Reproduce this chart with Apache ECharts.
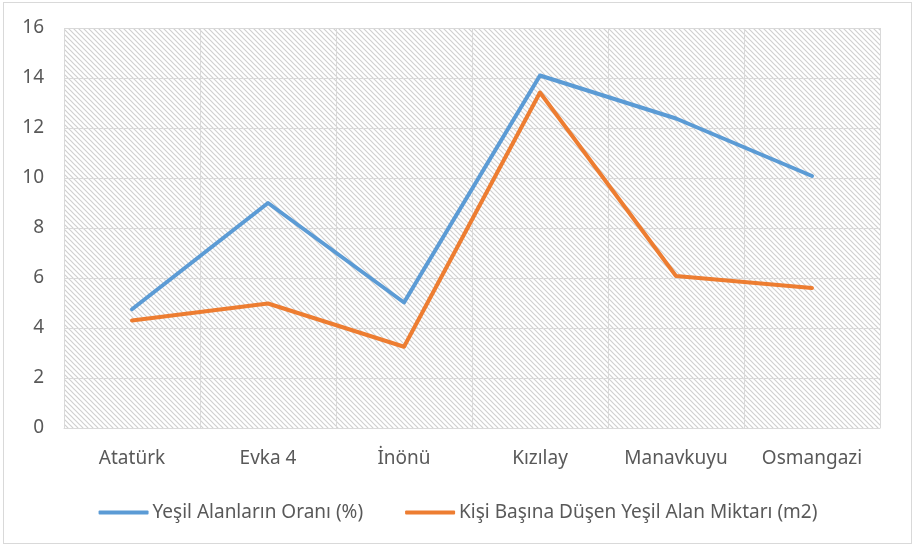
<!DOCTYPE html>
<html>
<head>
<meta charset="utf-8">
<script src="https://cdn.jsdelivr.net/npm/echarts@6/dist/echarts.min.js"></script>
<style>
  html, body { margin: 0; padding: 0; background: #fff; }
  #frame { position: absolute; left: 3px; top: 2px; width: 907px; height: 540px; border: 1px solid #d9d9d9; }
  #chart { position: absolute; left: 0; top: 0; width: 916px; height: 547px; }
</style>
</head>
<body>
<div id="frame"></div>
<div id="chart"></div>
<script>
let mahalleler = ['Atatürk', 'Evka 4', 'İnönü', 'Kızılay', 'Manavkuyu', 'Osmangazi'];
let seriesNames = ['Yeşil Alanların Oranı (%)', 'Kişi Başına Düşen Yeşil Alan Miktarı (m2)'];
let yesilOran = [4.75, 9.0, 5.02, 14.1, 12.38, 10.08];
let kisiBasina = [4.3, 4.98, 3.25, 13.42, 6.08, 5.6];

// taralı arka plan deseni
function hatchPattern() {
    let c = document.createElement('canvas');
    c.width = 5; c.height = 5;
    let ctx = c.getContext('2d');
    ctx.fillStyle = '#ffffff';
    ctx.fillRect(0, 0, 5, 5);
    ctx.strokeStyle = '#d0d0d0';
    ctx.lineWidth = 1.2;
    ctx.beginPath();
    ctx.moveTo(-1, -1); ctx.lineTo(6, 6);
    ctx.moveTo(-1, 4); ctx.lineTo(1, 6);
    ctx.moveTo(4, -1); ctx.lineTo(6, 1);
    ctx.stroke();
    return c;
}

let myChart = echarts.init(document.getElementById('chart'));
let font = '"Noto Sans", sans-serif';
let option = {
    animation: false,
    textStyle: { fontFamily: font },
    legend: {
        data: [
            { name: seriesNames[0], icon: 'roundRect' },
            { name: seriesNames[1], icon: 'roundRect' }
        ],
        bottom: 20,
        left: 'center',
        itemWidth: 50,
        itemHeight: 4,
        itemGap: 42,
        textStyle: { color: '#595959', fontSize: 19, fontFamily: font, padding: [0, 0, 0, -1] }
    },
    grid: {
        top: 28,
        left: 64,
        right: 36,
        bottom: 119,
        show: true,
        borderWidth: 0,
        backgroundColor: { image: hatchPattern(), repeat: 'repeat' }
    },
    xAxis: {
        type: 'category',
        data: mahalleler,
        boundaryGap: true,
        axisLine: { lineStyle: { color: '#d9d9d9', width: 1 } },
        axisTick: { show: false },
        axisLabel: { color: '#595959', fontSize: 19, margin: 21, fontFamily: font },
        splitLine: { show: true, lineStyle: { color: '#d9d9d9', width: 1 } }
    },
    yAxis: {
        type: 'value',
        min: 0,
        max: 16,
        interval: 2,
        axisLine: { show: false },
        axisTick: { show: false },
        axisLabel: { color: '#595959', fontSize: 19, margin: 20, fontFamily: font },
        splitLine: { lineStyle: { color: '#d9d9d9', width: 1 } }
    },
    series: [
        {
            name: seriesNames[0],
            type: 'line',
            data: yesilOran,
            symbol: 'none',
            lineStyle: { color: '#5b9bd5', width: 4, cap: 'round', join: 'round' },
            itemStyle: { color: '#5b9bd5' }
        },
        {
            name: seriesNames[1],
            type: 'line',
            data: kisiBasina,
            symbol: 'none',
            lineStyle: { color: '#ed7d31', width: 4, cap: 'round', join: 'round' },
            itemStyle: { color: '#ed7d31' }
        }
    ]
};
myChart.setOption(option);
</script>
</body>
</html>
